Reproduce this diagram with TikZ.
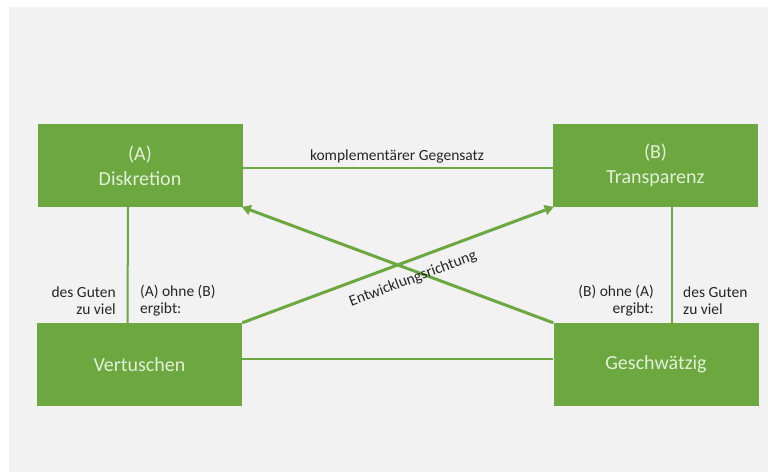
\documentclass[tikz,border=0pt]{standalone}
\usepackage{fontspec}
\setmainfont{Carlito}
\usetikzlibrary{arrows.meta}
\definecolor{leaf}{RGB}{108,167,64}
\definecolor{paper}{RGB}{242,242,242}
\definecolor{boxtext}{RGB}{226,241,214}
\definecolor{labeltext}{RGB}{38,38,38}
\begin{document}
\begin{tikzpicture}[x=1pt,y=-1pt,
  pole/.style={rectangle, fill=leaf, draw=none, minimum width=205pt, minimum height=83pt,
    text=boxtext, align=center, font=\fontsize{20}{25}\selectfont, inner sep=0pt},
  note/.style={text=labeltext, font=\fontsize{15.5}{17.5}\selectfont, inner sep=0pt},
  link/.style={draw=leaf, line width=2pt},
  trend/.style={draw=leaf, line width=3pt, -{Triangle[length=9pt,width=10pt]}, shorten >=-1pt}]
  % canvas
  \fill[white] (0,0) rectangle (768,472);
  \fill[paper] (9,7) rectangle (768,472);
  \useasboundingbox (0,0) rectangle (768,472);

  % the four poles
  \node[pole] (A) at (140,165.5) {(A)\\Diskretion};
  \node[pole] (B) at (655.5,165.5) {(B)\\Transparenz};
  \node[pole] (V) at (139.5,364.5) {Vertuschen};
  \node[pole] (G) at (656,364.5) {Geschwätzig};

  % connecting lines
  \draw[link] ([yshift=-2.5pt]A.east) -- ([yshift=-2.5pt]B.west);
  \draw[link] ([yshift=5.5pt]V.east) -- ([yshift=5.5pt]G.west);
  \draw[link] ([xshift=-12pt]A.south) -- ([xshift=-12pt]V.north);
  \draw[link] ([xshift=16.5pt]B.south) -- ([xshift=16pt]G.north);

  % development arrows
  \draw[trend] (V.north east) -- (B.south west);
  \draw[trend] (G.north west) -- (A.south east);

  % labels
  \node[note, anchor=base] (ctext) at (397,160) {komplementärer Gegensatz};
  \node[note, rotate=20.5] (dtext) at (413,279) {Entwicklungsrichtung};
  \node[note, align=right, anchor=east] (ltl) at (116,300.5) {des Guten\\zu viel};
  \node[note, align=left, anchor=west] (ltr) at (140,300.5) {(A) ohne (B)\\ergibt:};
  \node[note, align=right, anchor=east] (rtl) at (654,300.5) {(B) ohne (A)\\ergibt:};
  \node[note, align=left, anchor=west] (rtr) at (683,300.5) {des Guten\\zu viel};
\end{tikzpicture}
\end{document}
